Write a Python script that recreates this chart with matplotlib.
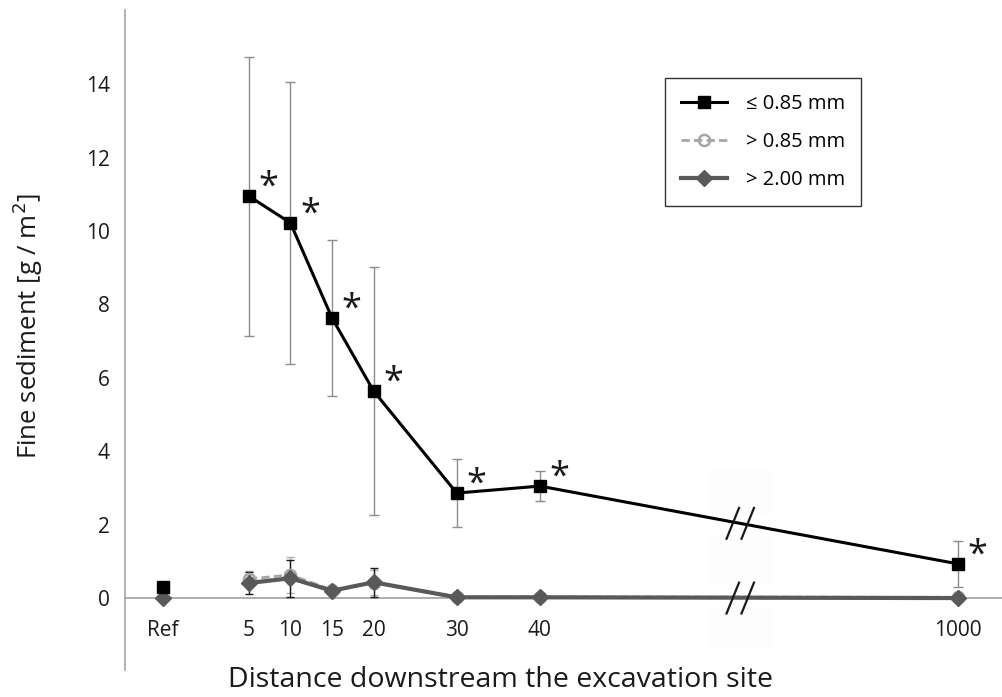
import numpy as np
import matplotlib
matplotlib.use("Agg")
from matplotlib import pyplot as plt
from matplotlib.patches import Rectangle

plt.rcParams['font.family'] = ['Open Sans', 'DejaVu Sans']

labels = ["Ref", "5", "10", "15", "20", "30", "40", "1000"]
xpos = [-5.3, 5, 10, 15, 20, 30, 40, 90.3]
x_break = 64.1

fine = [0.3, 10.95, 10.22, 7.63, 5.64, 2.86, 3.05, 0.93]
fine_err = [0, 3.8, 3.85, 2.12, 3.38, 0.93, 0.4, 0.62]
mid = [0.52, 0.63, 0.22, 0.42, 0.03, 0.03, 0.02]
mid_err = [0.22, 0.5, 0.05, 0.35, 0, 0, 0]
coarse = [0.0, 0.41, 0.54, 0.2, 0.43, 0.02, 0.02, 0.0]
coarse_err = [0, 0.31, 0.5, 0.05, 0.4, 0, 0, 0]
signif = [False, True, True, True, True, True, True, True]

fig = plt.figure(figsize=(10.03, 6.97), dpi=100)
ax = fig.add_axes([125/1003, 27/697, 878/1003, 660/697])
ax.set_xlim(-9.9, 95.7)
ax.set_ylim(-1.96, 16.02)

# faint boxes behind the axis break
for y0, y1 in [(2.3, 3.5), (0.35, 1.7), (-1.4, -0.3)]:
    ax.add_patch(Rectangle((x_break - 3.9, y0), 7.8, y1 - y0, color="#fdfdfd", zorder=0, lw=0))

# error bars
ax.errorbar(xpos[1:], fine[1:], yerr=fine_err[1:], fmt="none", ecolor="#8c8c8c",
            elinewidth=1, capsize=3.5, capthick=1, zorder=2)
ax.errorbar(xpos[1:], mid, yerr=mid_err, fmt="none", ecolor="#b0b0b0",
            elinewidth=1, capsize=3, capthick=1, zorder=2)
ax.errorbar(xpos[1:], coarse[1:], yerr=coarse_err[1:], fmt="none", ecolor="#1a1a1a",
            elinewidth=1, capsize=3, capthick=1, zorder=2)

# lines
ax.plot(xpos[1:], mid, color="#a6a6a6", ls=(0, (3, 1.5)), lw=2, marker="o", ms=8,
        mfc="none", mec="#a6a6a6", mew=1.8, zorder=3, label="> 0.85 mm")
ax.plot(xpos[1:], coarse[1:], color="#595959", lw=3, marker="D", ms=8.5,
        mfc="#595959", mec="#595959", zorder=4, label="> 2.00 mm")
ax.plot(xpos[0], coarse[0], color="#595959", marker="D", ms=8.5, ls="none", zorder=4)
ax.plot(xpos[1:], fine[1:], color="black", lw=2.2, marker="s", ms=8, zorder=5,
        label="≤ 0.85 mm")
ax.plot(xpos[0], fine[0], color="black", marker="s", ms=8, ls="none", zorder=5)

# asterisks
for xi, yi, s in zip(xpos, fine, signif):
    if s:
        ax.annotate("*", (xi, yi), xytext=(14, 6), textcoords="offset points",
                    ha="center", va="center", fontsize=26, color="#1a1a1a")

# break marks
for yb in [np.interp(x_break, xpos[1:], fine[1:]), 0.0]:
    for dx in (-0.9, 0.9):
        ax.plot([x_break + dx - 0.75, x_break + dx + 0.75], [yb - 0.42, yb + 0.42],
                color="#1a1a1a", lw=1.6, zorder=6)

for s in ["top", "right"]:
    ax.spines[s].set_visible(False)
ax.spines["bottom"].set_position(("data", 0))
ax.spines["bottom"].set_color("#a0a0a0")
ax.spines["bottom"].set_linewidth(1.2)
ax.spines["bottom"].set_zorder(1)
ax.spines["left"].set_color("#a6a6a6")
ax.spines["left"].set_linewidth(1.2)

ax.set_yticks([0, 2, 4, 6, 8, 10, 12, 14])
ax.tick_params(axis="y", length=0, pad=11, labelsize=15, colors="#1a1a1a")
ax.set_xticks(xpos)
ax.set_xticklabels(labels)
ax.tick_params(axis="x", length=0, pad=16, labelsize=15, colors="#1a1a1a")

fig.text(28/1003, 1 - 326/697, "Fine sediment [g / m$^{2}$]", rotation=90,
         ha="center", va="center", fontsize=18.5, color="#1a1a1a")
fig.text(501/1003, 1 - 680/697, "Distance downstream the excavation site",
         ha="center", va="center", fontsize=20.5, color="#1a1a1a")

order = ["≤ 0.85 mm", "> 0.85 mm", "> 2.00 mm"]
h, l = ax.get_legend_handles_labels()
hl = dict(zip(l, h))
leg = ax.legend([hl[k] for k in order], order, loc="upper left",
                bbox_to_anchor=((665 - 125) / 878, 1 - 68 / 660),
                fontsize=14.5, frameon=True, fancybox=False, edgecolor="black",
                handlelength=2.3, labelspacing=0.9, borderpad=0.8, handletextpad=0.9,
                borderaxespad=0)
leg.get_frame().set_linewidth(1)

fig.savefig("out.png", dpi=100)
